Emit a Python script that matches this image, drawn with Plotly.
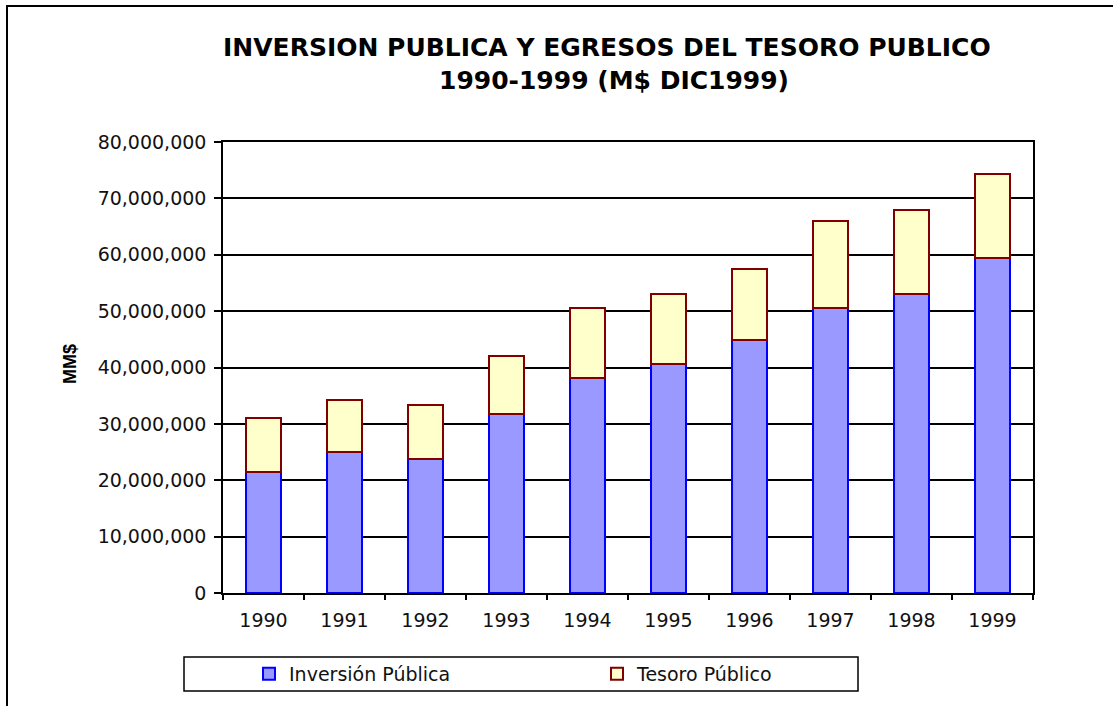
import plotly.graph_objects as go

years = ["1990", "1991", "1992", "1993", "1994", "1995", "1996", "1997", "1998", "1999"]
inversion_publica = [21.5e6, 25.0e6, 23.7e6, 31.8e6, 38.2e6, 40.7e6, 44.9e6, 50.6e6, 53.1e6, 59.5e6]
tesoro_publico = [9.6e6, 9.3e6, 9.6e6, 10.3e6, 12.4e6, 12.4e6, 12.5e6, 15.3e6, 14.9e6, 14.9e6]
y_ticks = [0, 10e6, 20e6, 30e6, 40e6, 50e6, 60e6, 70e6, 80e6]

W, H = 1113, 706
OFF = 0  # body margin removed below
L, T = 223, 142
pw, ph = 810, 451
R, B = W - L - pw, H - T - ph

def px(x):  # page pixel -> paper x
    return (x - OFF - L) / pw

def py(y):  # page pixel -> paper y
    return (H - B - (y - OFF)) / ph

FONT = "DejaVu Sans, Liberation Sans, Arial, sans-serif"
ARIAL = "Liberation Sans, Arial, sans-serif"
FS = 19

fig = go.Figure()
fig.add_trace(go.Bar(
    x=years, y=inversion_publica, name="Inversión Pública",
    marker=dict(color="#9999FF", line=dict(color="#0000FF", width=2)),
))
fig.add_trace(go.Bar(
    x=years, y=tesoro_publico, name="Tesoro Público",
    marker=dict(color="#FFFFCC", line=dict(color="#800000", width=2)),
))

fig.update_layout(
    width=W, height=H,
    barmode="stack", bargap=0.58,
    margin=dict(l=L, r=R, t=T, b=B, autoexpand=False),
    paper_bgcolor="white", plot_bgcolor="white",
    font=dict(family=FONT, size=FS, color="#111111"),
    showlegend=True,
    legend=dict(
        orientation="h", x=px(249), xanchor="left", y=py(674), yanchor="middle",
        entrywidth=303, entrywidthmode="pixels",
        font=dict(family=FONT, size=FS, color="#111111"),
        bgcolor="rgba(0,0,0,0)", borderwidth=0, traceorder="normal",
    ),
    xaxis=dict(
        type="category", showline=True, linecolor="black", linewidth=1.5,
        mirror=True, ticks="outside", ticklen=5, tickwidth=1.5, tickcolor="black",
        tickson="boundaries", showgrid=False, ticklabelstandoff=9,
        tickfont=dict(family=FONT, size=FS, color="#111111"),
    ),
    yaxis=dict(
        range=[0, 80e6], tickvals=y_ticks, tickformat=",d",
        showline=True, linecolor="black", linewidth=1.5, mirror=True,
        ticks="outside", ticklen=7, tickwidth=1.5, tickcolor="black",
        showgrid=True, gridcolor="black", gridwidth=1.5, zeroline=False,
        ticklabelstandoff=4,
        tickfont=dict(family=FONT, size=FS, color="#111111"),
    ),
)

# Title lines
fig.add_annotation(text="<b>INVERSION PUBLICA Y EGRESOS DEL TESORO PUBLICO</b>",
                   xref="paper", yref="paper", x=px(607), y=py(48), showarrow=False,
                   xanchor="center", yanchor="middle",
                   font=dict(family=FONT, size=25, color="black"))
fig.add_annotation(text="<b>1990-1999 (M$ DIC1999)</b>",
                   xref="paper", yref="paper", x=px(614), y=py(80), showarrow=False,
                   xanchor="center", yanchor="middle",
                   font=dict(family=FONT, size=25, color="black"))
# Y axis title
fig.add_annotation(text="<b>MM$</b>", textangle=-90,
                   xref="paper", yref="paper", x=px(70), y=py(364), showarrow=False,
                   xanchor="center", yanchor="middle",
                   font=dict(family=ARIAL, size=18, color="black"))

# Outer frame (left and top edges) and legend box
fig.add_shape(type="line", xref="paper", yref="paper",
              x0=px(7), x1=px(7), y0=py(6), y1=py(730), line=dict(color="black", width=2))
fig.add_shape(type="line", xref="paper", yref="paper",
              x0=px(6), x1=px(1130), y0=py(6), y1=py(6), line=dict(color="black", width=2))
fig.add_shape(type="rect", xref="paper", yref="paper",
              x0=px(184), x1=px(858), y0=py(691), y1=py(657),
              line=dict(color="black", width=1.5), fillcolor="rgba(0,0,0,0)")

fig.write_html("out.html", config={"displayModeBar": False},
               post_script="document.body.style.margin='0px';")
